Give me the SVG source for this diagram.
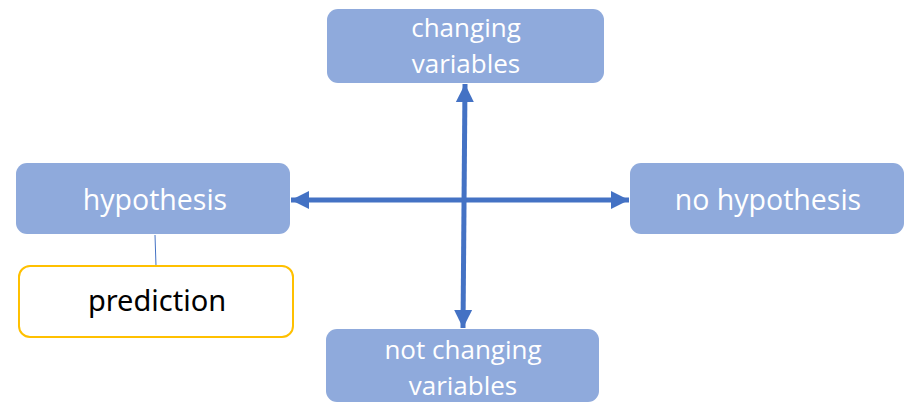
<svg xmlns="http://www.w3.org/2000/svg" width="916" height="412" viewBox="0 0 916 412">
<style>
.box{fill:#8FAADC;}
.t{font-family:"Open Sans","Noto Sans",sans-serif;font-size:28.5px;fill:#fff;text-anchor:middle;}
.t2{font-family:"Open Sans","Noto Sans",sans-serif;font-size:26px;fill:#fff;text-anchor:middle;}
.p{font-family:"Noto Sans","Open Sans",sans-serif;font-size:29px;fill:#000;text-anchor:middle;}
.arr{stroke:#4472C4;stroke-width:5;fill:none;}
</style>
<defs>
<marker id="ah" markerWidth="4" markerHeight="4" refX="3.6" refY="2" orient="auto-start-reverse" markerUnits="strokeWidth">
<path d="M0,0.2 L3.6,2 L0,3.8 Z" fill="#4472C4"/>
</marker>
</defs>
<g id="connectors">
<line class="arr" x1="291" y1="200" x2="629" y2="200" marker-start="url(#ah)" marker-end="url(#ah)"/>
<line class="arr" x1="465" y1="84" x2="463" y2="328" marker-start="url(#ah)" marker-end="url(#ah)"/>
<line x1="155" y1="235" x2="156" y2="266" stroke="#4472C4" stroke-width="1"/>
</g>
<g id="changing">
<rect class="box" x="327" y="9" width="277" height="74" rx="11"/>
<text class="t2" x="466" y="37">changing</text>
<text class="t2" x="466" y="73">variables</text>
</g>
<g id="hypothesis">
<rect class="box" x="16" y="163" width="274" height="71" rx="11"/>
<text class="t" x="155" y="210">hypothesis</text>
</g>
<g id="nohypothesis">
<rect class="box" x="630" y="163" width="274" height="71" rx="11"/>
<text class="t" x="768" y="210">no hypothesis</text>
</g>
<g id="notchanging">
<rect class="box" x="326" y="329" width="273" height="73" rx="11"/>
<text class="t2" x="463" y="359">not changing</text>
<text class="t2" x="463" y="395">variables</text>
</g>
<g id="prediction">
<rect x="19" y="266" width="274" height="71" rx="11" fill="#fff" stroke="#FFC000" stroke-width="2"/>
<text class="p" x="157" y="311">prediction</text>
</g>
</svg>
